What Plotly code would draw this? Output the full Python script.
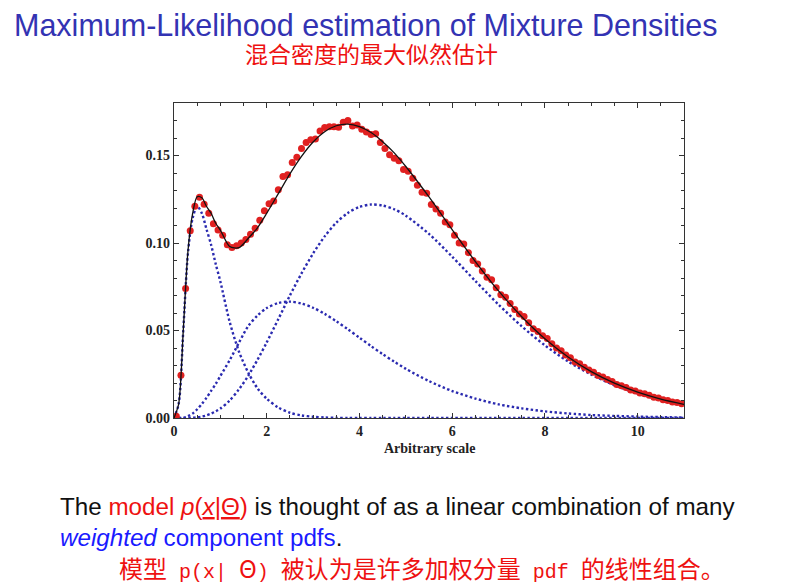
import plotly.graph_objects as go

# ---------------- data ----------------
X_GRID = [0, 0.1, 0.2, 0.3, 0.4, 0.5, 0.6, 0.7, 0.8, 0.9, 1.0, 1.2, 1.4, 1.6, 1.8, 2.0,
          2.25, 2.5, 2.75, 3.0, 3.25, 3.5, 3.75, 4.0, 4.25, 4.5, 4.75, 5.0,
          5.5, 6.0, 6.5, 7.0, 7.5, 8.0, 8.5, 9.0, 9.5, 10.0, 10.5, 11.0]

COMP_NARROW = [0, 0.008, 0.05, 0.094, 0.114, 0.121, 0.117, 0.108, 0.099, 0.088, 0.078,
               0.055, 0.038, 0.026, 0.017, 0.011, 0.006, 0.003, 0.0015, 0.0007, 0.0003,
               0.0001, 0, 0, 0, 0, 0, 0, 0, 0, 0, 0, 0, 0, 0, 0, 0, 0, 0, 0]

COMP_MIDDLE = [0, 0, 0, 0.001, 0.0025, 0.005, 0.008, 0.0115, 0.0155, 0.0195, 0.024,
               0.033, 0.043, 0.0525, 0.0585, 0.0628, 0.0657, 0.0665, 0.0654, 0.063,
               0.0595, 0.0553, 0.0507, 0.0459, 0.0411, 0.0365, 0.0322, 0.0281,
               0.0211, 0.0154, 0.0111, 0.0078, 0.0055, 0.0038, 0.0026, 0.0017,
               0.0012, 0.0008, 0.0005, 0.0003]

COMP_WIDE = [0, 0, 0, 0, 0.0001, 0.0004, 0.0008, 0.0015, 0.0025, 0.0038, 0.0054,
             0.010, 0.0163, 0.0241, 0.0332, 0.0432, 0.0565, 0.070, 0.0826, 0.094,
             0.1038, 0.1116, 0.1172, 0.1206, 0.122, 0.1214, 0.1193, 0.1156,
             0.1052, 0.0922, 0.0783, 0.0648, 0.0524, 0.0415, 0.0323, 0.0248,
             0.0187, 0.0140, 0.0103, 0.0075]

MIXTURE = [0, 0.008, 0.050, 0.095, 0.1166, 0.1264, 0.1258, 0.121, 0.117, 0.1113, 0.1074,
           0.098, 0.0973, 0.1026, 0.1087, 0.117, 0.1282, 0.1395, 0.1495, 0.1577,
           0.1636, 0.167, 0.1679, 0.1665, 0.1631, 0.1579, 0.1515, 0.1437,
           0.1263, 0.1076, 0.0894, 0.0726, 0.0579, 0.0453, 0.0349, 0.0265,
           0.0199, 0.0148, 0.0108, 0.0078]

SAMPLE_X = [0.05, 0.15, 0.25, 0.35, 0.45, 0.55, 0.65, 0.75, 0.85, 0.95,
            1.05, 1.15, 1.25, 1.35, 1.45, 1.55, 1.65, 1.75, 1.85, 1.95,
            2.05, 2.15, 2.25, 2.35, 2.45, 2.55, 2.65, 2.75, 2.85, 2.95,
            3.05, 3.15, 3.25, 3.35, 3.45, 3.55, 3.65, 3.75, 3.85, 3.95,
            4.05, 4.15, 4.25, 4.35, 4.45, 4.55, 4.65, 4.75, 4.85, 4.95,
            5.05, 5.15, 5.25, 5.35, 5.45, 5.55, 5.65, 5.75, 5.85, 5.95,
            6.05, 6.15, 6.25, 6.35, 6.45, 6.55, 6.65, 6.75, 6.85, 6.95,
            7.05, 7.15, 7.25, 7.35, 7.45, 7.55, 7.65, 7.75, 7.85, 7.95,
            8.05, 8.15, 8.25, 8.35, 8.45, 8.55, 8.65, 8.75, 8.85, 8.95,
            9.05, 9.15, 9.25, 9.35, 9.45, 9.55, 9.65, 9.75, 9.85, 9.95,
            10.05, 10.15, 10.25, 10.35, 10.45, 10.55, 10.65, 10.75, 10.85, 10.95]

SAMPLE_Y = [0.0010, 0.0245, 0.0740, 0.1070, 0.1210, 0.1262, 0.1222, 0.1170, 0.1110, 0.1075,
            0.1045, 0.0990, 0.0975, 0.0985, 0.1000, 0.1020, 0.1050, 0.1085, 0.1130, 0.1185,
            0.1225, 0.1240, 0.1305, 0.1380, 0.1390, 0.1460, 0.1490, 0.1540, 0.1575, 0.1590,
            0.1595, 0.1640, 0.1660, 0.1665, 0.1665, 0.1662, 0.1690, 0.1700, 0.1668, 0.1675,
            0.1650, 0.1635, 0.1620, 0.1625, 0.1575, 0.1540, 0.1505, 0.1485, 0.1470, 0.1420,
            0.1410, 0.1370, 0.1330, 0.1290, 0.1285, 0.1220, 0.1195, 0.1170, 0.1120, 0.1105,
            0.1045, 0.1000, 0.0995, 0.0945, 0.0900, 0.0880, 0.0840, 0.0805, 0.0790, 0.0745,
            0.0705, 0.0690, 0.0655, 0.0620, 0.0595, 0.0580, 0.0545, 0.0510, 0.0495, 0.0470,
            0.0455, 0.0425, 0.0400, 0.0385, 0.0360, 0.0345, 0.0320, 0.0310, 0.0290, 0.0275,
            0.0262, 0.0243, 0.0235, 0.0220, 0.0208, 0.0192, 0.0185, 0.0175, 0.0160, 0.0155,
            0.0143, 0.0138, 0.0130, 0.0118, 0.0114, 0.0105, 0.0100, 0.0092, 0.0088, 0.0082]

X_TICK_STEP = 2
Y_TICK_STEP = 0.05

# ---------------- styling ----------------
BLUE = "#2a2ab0"
RED = "#e02020"
TITLE_BLUE = "#3333B3"
AXIS_COL = "#333333"

fig = go.Figure()

for comp in (COMP_NARROW, COMP_MIDDLE, COMP_WIDE):
    fig.add_trace(go.Scatter(
        x=X_GRID, y=comp, mode="lines",
        line=dict(color=BLUE, width=2.4, dash="2.4px,2.4px", shape="spline", smoothing=0.8),
        hoverinfo="skip"))

fig.add_trace(go.Scatter(
    x=SAMPLE_X, y=SAMPLE_Y, mode="markers",
    marker=dict(color=RED, size=7, line=dict(width=0)),
    hoverinfo="skip"))

fig.add_trace(go.Scatter(
    x=X_GRID, y=MIXTURE, mode="lines",
    line=dict(color="#111111", width=1.3, shape="spline", smoothing=0.8),
    hoverinfo="skip"))

tickfont = dict(family="Liberation Serif", size=14, color="#222222", weight="bold")

fig.update_xaxes(
    range=[0, 11], tick0=0, dtick=X_TICK_STEP, ticks="inside", ticklen=5, tickwidth=1,
    tickcolor=AXIS_COL, mirror="allticks", showline=True, linecolor=AXIS_COL, linewidth=1.2,
    showgrid=False, zeroline=False, tickfont=tickfont,
    minor=dict(ticks="inside", ticklen=3, dtick=0.5, tick0=0, tickcolor=AXIS_COL, showgrid=False))

fig.update_yaxes(
    range=[0, 0.18], tick0=0, dtick=Y_TICK_STEP, tickformat=".2f", ticks="inside", ticklen=5,
    tickwidth=1, tickcolor=AXIS_COL, mirror="allticks", showline=True, linecolor=AXIS_COL,
    linewidth=1.2, showgrid=False, zeroline=False, tickfont=tickfont,
    minor=dict(ticks="inside", ticklen=3, dtick=0.01, tick0=0, tickcolor=AXIS_COL, showgrid=False))

# The page adds an 8px body margin, so the figure is 8px smaller and all
# page-pixel positions are shifted by that offset.
OFF = 8
W, H = 810 - OFF, 586 - OFF
L, T = 174 - OFF, 103 - OFF
R = W - (684 - OFF)
B = H - (418 - OFF)
PW, PH = W - L - R, H - T - B


def px(x):
    return (x - OFF - L) / PW


def py(y):
    return (H - B - (y - OFF)) / PH


MONO = "font-family:Liberation Mono;font-size:20px"

annotations = [
    dict(text="Maximum-Likelihood estimation of Mixture Densities",
         x=px(12), y=py(25), xanchor="left", yanchor="middle", height=30,
         font=dict(family="Liberation Sans", size=30.5, color=TITLE_BLUE)),
    dict(text="混合密度的最大似然估计",
         x=px(371), y=py(53), xanchor="center", yanchor="middle", height=24,
         font=dict(family="Noto Sans CJK SC", size=23, color="#ee1111")),
    dict(text="<b>Arbitrary scale</b>",
         x=0.5, y=py(448), xanchor="center", yanchor="middle",
         font=dict(family="Liberation Serif", size=14, color="#222222")),
    dict(text=("The <span style='color:#ee1111'>model <i>p</i>(<span style='text-decoration:underline'><i>x</i></span>"
               "|<span style='text-decoration:underline'>Θ</span>)</span> is thought of as a linear combination of many"),
         x=px(58), y=py(507), xanchor="left", yanchor="middle",
         font=dict(family="Liberation Sans", size=24.2, color="#111111")),
    dict(text="<span style='color:#1a1aff'><i>weighted</i> component pdfs</span>.",
         x=px(58), y=py(537), xanchor="left", yanchor="middle",
         font=dict(family="Liberation Sans", size=24.2, color="#111111")),
    dict(text=(f"模型<span style='{MONO}'> p(x| </span>Θ<span style='{MONO}'>) </span>被认为是许多加权分量"
               f"<span style='{MONO}'> pdf </span>的线性组合。"),
         x=px(117), y=py(567), xanchor="left", yanchor="middle",
         font=dict(family="Noto Sans CJK SC", size=24, color="#ee1111")),
]
for a in annotations:
    a.update(xref="paper", yref="paper", showarrow=False)

fig.update_layout(
    width=W, height=H, margin=dict(l=L, r=R, t=T, b=B),
    paper_bgcolor="white", plot_bgcolor="white", showlegend=False,
    annotations=annotations)

fig.write_html("out.html")
